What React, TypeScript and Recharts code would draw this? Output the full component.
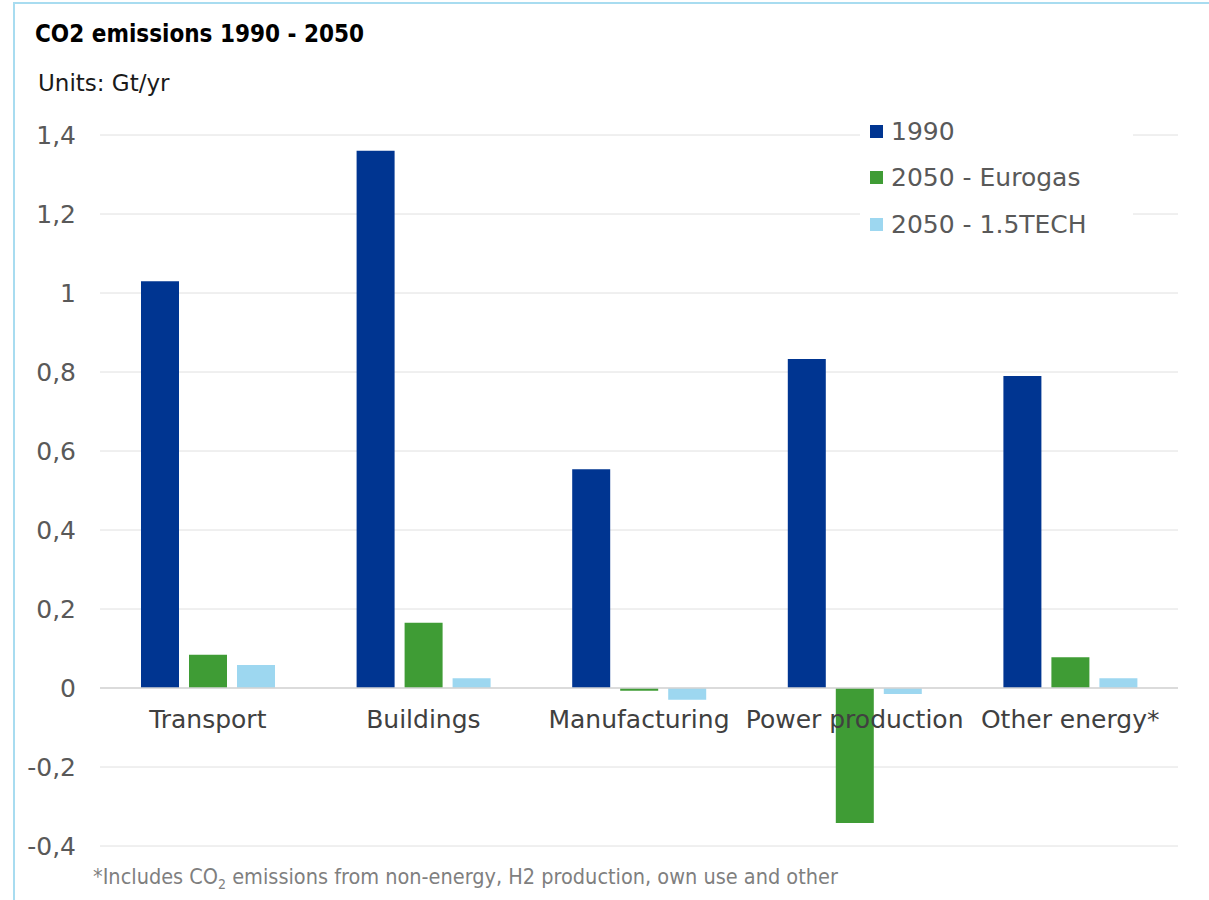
import { BarChart, Bar, XAxis, YAxis, CartesianGrid, Legend, ReferenceLine } from 'recharts'

const categories = ['Transport', 'Buildings', 'Manufacturing', 'Power production', 'Other energy*']
const values1990 = [1.03, 1.36, 0.554, 0.833, 0.79]
const valuesEurogas = [0.084, 0.165, -0.007, -0.342, 0.078]
const valuesTech = [0.058, 0.025, -0.03, -0.015, 0.025]
const yTicks = [-0.4, -0.2, 0, 0.2, 0.4, 0.6, 0.8, 1, 1.2, 1.4]

const seriesNames = ['1990', '2050 - Eurogas', '2050 - 1.5TECH']
const seriesColors = ['#003591', '#3f9c35', '#9dd7f0']

const data = categories.map((name, i) => ({
    name,
    s1990: values1990[i],
    eurogas: valuesEurogas[i],
    tech: valuesTech[i],
}))

const font = '"DejaVu Sans", Verdana, sans-serif'
const condensed = '"DejaVu Sans Condensed", Tahoma, sans-serif'

const fmt = (v: number) => String(Math.round(v * 10) / 10).replace('.', ',')

// category labels sit just under the zero line, not at the bottom of the plot
const CategoryTick = (props: any) => {
    const { x, y, payload } = props
    return (
        <text x={x} y={y} dy={-126} textAnchor="middle" fill="#404040" fontSize={25} fontFamily={font}>
            {payload.value}
        </text>
    )
}

const LegendBox = (props: any) => {
    const items = [...(props.payload || [])].sort(
        (a: any, b: any) => seriesNames.indexOf(a.value) - seriesNames.indexOf(b.value)
    )
    return (
        <div style={{ background: '#fff', width: 263, paddingLeft: 10 }}>
            {items.map((it: any) => (
                <div key={it.value} style={{ display: 'flex', alignItems: 'center', height: 46.5 }}>
                    <span style={{ width: 13, height: 13, background: it.color, marginRight: 8, display: 'inline-block' }} />
                    <span style={{ color: '#595959', fontSize: 25, fontFamily: font, whiteSpace: 'nowrap' }}>{it.value}</span>
                </div>
            ))}
        </div>
    )
}

export default function App() {
    return (
        <div style={{ position: 'absolute', left: 0, top: 0, width: 1209, height: 900, background: '#fff', overflow: 'hidden' }}>
            <div style={{
                position: 'absolute', left: 13, top: 2, right: 0, bottom: 0,
                borderLeft: '2px solid #a8dcf0', borderTop: '2px solid #a8dcf0',
            }} />
            <div style={{ position: 'absolute', left: 35, top: 20, fontFamily: condensed, fontWeight: 'bold', fontSize: 24, color: '#000' }}>
                CO2 emissions 1990 - 2050
            </div>
            <div style={{ position: 'absolute', left: 38, top: 70, fontFamily: font, fontSize: 23, color: '#1a1a1a' }}>
                Units: Gt/yr
            </div>
            <div style={{ position: 'absolute', left: 93, top: 864, fontFamily: condensed, fontSize: 21.5, color: '#7f7f7f', whiteSpace: 'nowrap' }}>
                *Includes CO<sub style={{ fontSize: 14 }}>2</sub> emissions from non-energy, H2 production, own use and other
            </div>
            <BarChart
                width={1209}
                height={900}
                data={data}
                margin={{ top: 135, right: 31, left: 10, bottom: 24 }}
                barSize={38}
                barGap={10}
                style={{ position: 'absolute', left: 0, top: 0 }}
            >
                <CartesianGrid vertical={false} stroke="#e0e0e0" />
                <XAxis dataKey="name" height={30} axisLine={false} tickLine={false} tick={<CategoryTick />} interval={0} />
                <YAxis
                    width={90}
                    domain={[-0.4, 1.4]}
                    ticks={yTicks}
                    tickFormatter={fmt}
                    axisLine={false}
                    tickLine={false}
                    tickSize={0}
                    tickMargin={24}
                    tick={{ fill: '#595959', fontSize: 25, fontFamily: font }}
                />
                <ReferenceLine y={0} stroke="#d4d4d4" strokeWidth={1.5} />
                <Legend
                    layout="vertical"
                    align="center"
                    verticalAlign="middle"
                    content={<LegendBox />}
                    wrapperStyle={{ position: 'absolute', left: 860, top: 108, width: 273 }}
                />
                <Bar dataKey="s1990" name={seriesNames[0]} fill={seriesColors[0]} isAnimationActive={false} />
                <Bar dataKey="eurogas" name={seriesNames[1]} fill={seriesColors[1]} isAnimationActive={false} />
                <Bar dataKey="tech" name={seriesNames[2]} fill={seriesColors[2]} isAnimationActive={false} />
            </BarChart>
        </div>
    )
}
